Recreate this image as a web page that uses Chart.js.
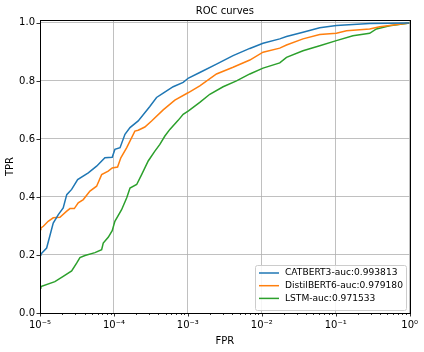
<!DOCTYPE html>
<html>
<head>
<meta charset="utf-8">
<script src="https://cdn.jsdelivr.net/npm/chart.js@4"></script>
<style>
html,body{margin:0;padding:0;background:#fff;}
#wrap{width:424px;height:352px;position:relative;}
</style>
</head>
<body>
<div id="wrap"><canvas id="c" width="424" height="352"></canvas></div>
<script>
const seriesNames = ["CATBERT3-auc:0.993813", "DistilBERT6-auc:0.979180", "LSTM-auc:0.971533"];
const seriesColors = ["#1f77b4", "#ff7f0e", "#2ca02c"];

const fprCatbert = [1e-5, 1.03e-5, 1.23e-5, 1.51e-5, 1.77e-5, 2.06e-5, 2.30e-5, 2.68e-5, 3.23e-5, 4.50e-5, 5.83e-5, 7.55e-5, 9.48e-5, 1.03e-4, 1.21e-4, 1.41e-4, 1.65e-4, 2.13e-4, 3.06e-4, 3.77e-4, 4.64e-4, 6.33e-4, 8.64e-4, 1.02e-3, 1.45e-3, 2.44e-3, 4.09e-3, 6.89e-3, 1.04e-2, 1.75e-2, 2.16e-2, 3.61e-2, 6.08e-2, 0.102, 0.288, 1.0];
const tprCatbert = [0.2, 0.203, 0.224, 0.31, 0.339, 0.362, 0.408, 0.426, 0.46, 0.483, 0.506, 0.535, 0.537, 0.564, 0.57, 0.616, 0.639, 0.662, 0.712, 0.743, 0.758, 0.78, 0.795, 0.81, 0.829, 0.858, 0.887, 0.912, 0.93, 0.945, 0.953, 0.968, 0.983, 0.991, 0.998, 1.0];

const fprDistil = [1e-5, 1.03e-5, 1.11e-5, 1.29e-5, 1.51e-5, 1.86e-5, 2.30e-5, 2.54e-5, 2.91e-5, 3.29e-5, 3.85e-5, 4.74e-5, 5.83e-5, 6.82e-5, 8.37e-5, 9.48e-5, 1.12e-4, 1.24e-4, 1.49e-4, 1.92e-4, 2.13e-4, 2.62e-4, 3.23e-4, 4.64e-4, 6.67e-4, 1.02e-3, 1.45e-3, 2.44e-3, 4.09e-3, 6.89e-3, 1.04e-2, 1.75e-2, 2.16e-2, 3.61e-2, 6.08e-2, 0.102, 0.140, 0.288, 0.393, 1.0];
const tprDistil = [0.288, 0.293, 0.299, 0.316, 0.328, 0.33, 0.351, 0.36, 0.36, 0.38, 0.391, 0.42, 0.437, 0.477, 0.489, 0.5, 0.503, 0.535, 0.57, 0.627, 0.63, 0.641, 0.662, 0.70, 0.734, 0.760, 0.783, 0.824, 0.847, 0.872, 0.899, 0.913, 0.924, 0.945, 0.96, 0.964, 0.973, 0.979, 0.987, 1.0];

const fprLstm = [1e-5, 1.03e-5, 1.59e-5, 2.06e-5, 2.68e-5, 3.13e-5, 3.47e-5, 4.06e-5, 5.54e-5, 6.82e-5, 7.17e-5, 8.37e-5, 9.48e-5, 1.03e-4, 1.27e-4, 1.49e-4, 1.65e-4, 2.03e-4, 2.37e-4, 2.91e-4, 3.58e-4, 4.18e-4, 4.89e-4, 5.71e-4, 7.39e-4, 8.64e-4, 1.02e-3, 1.45e-3, 1.98e-3, 3.00e-3, 4.55e-3, 6.89e-3, 1.04e-2, 1.75e-2, 2.16e-2, 3.61e-2, 6.08e-2, 0.102, 0.171, 0.288, 0.355, 0.537, 1.0];
const tprLstm = [0.086, 0.091, 0.108, 0.126, 0.145, 0.172, 0.191, 0.198, 0.208, 0.218, 0.241, 0.261, 0.284, 0.316, 0.356, 0.397, 0.431, 0.443, 0.477, 0.524, 0.558, 0.581, 0.61, 0.633, 0.664, 0.685, 0.697, 0.726, 0.754, 0.78, 0.80, 0.824, 0.844, 0.862, 0.881, 0.904, 0.921, 0.939, 0.956, 0.964, 0.979, 0.99, 1.0];

const xMajorTicks = [1e-5, 1e-4, 1e-3, 1e-2, 1e-1, 1];
const xTickLabels = ["10\u207B\u2075", "10\u207B\u2074", "10\u207B\u00B3", "10\u207B\u00B2", "10\u207B\u00B9", "10\u2070"];
const yTicks = [0, 0.2, 0.4, 0.6, 0.8, 1.0];
const yTickLabels = ["0.0", "0.2", "0.4", "0.6", "0.8", "1.0"];

const chartTitle = "ROC curves";
const xLabel = "FPR";
const yLabel = "TPR";

const FONT = "'DejaVu Sans', sans-serif";
Chart.defaults.font.family = FONT;
Chart.defaults.font.size = 10;
Chart.defaults.color = "#000";

function toPts(xs, ys) { return xs.map((x, i) => ({x: x, y: ys[i]})); }

const allFpr = [fprCatbert, fprDistil, fprLstm];
const allTpr = [tprCatbert, tprDistil, tprLstm];

const xMinorTicks = [];
for (let k = -5; k < 0; k++) for (let m = 2; m <= 9; m++) xMinorTicks.push(m * Math.pow(10, k));

const frame = {
  id: 'frame',
  afterDraw(chart) {
    const ctx = chart.ctx, a = chart.chartArea;
    const xs = chart.scales.x, ys = chart.scales.y;
    ctx.save();
    ctx.strokeStyle = '#000';
    ctx.lineWidth = 0.8;
    ctx.beginPath();
    xMajorTicks.forEach(v => { const p = Math.round(xs.getPixelForValue(v)) + 0.5; ctx.moveTo(p, a.bottom); ctx.lineTo(p, a.bottom + 3.5); });
    xMinorTicks.forEach(v => { const p = Math.round(xs.getPixelForValue(v)) + 0.5; ctx.moveTo(p, a.bottom); ctx.lineTo(p, a.bottom + 2); });
    yTicks.forEach(v => { const p = Math.round(ys.getPixelForValue(v)) + 0.5; ctx.moveTo(a.left, p); ctx.lineTo(a.left - 3.5, p); });
    ctx.stroke();
    ctx.lineWidth = 1;
    ctx.strokeRect(Math.round(a.left) + 0.5, Math.round(a.top) + 0.5, Math.round(a.right - a.left), Math.round(a.bottom - a.top));
    ctx.fillStyle = '#000';
    ctx.font = "10px " + FONT;
    ctx.textAlign = 'center';
    ctx.textBaseline = 'middle';
    ctx.fillText(chartTitle, (a.left + a.right) / 2, 11);
    ctx.fillText(xLabel, (a.left + a.right) / 2, 341);
    ctx.save();
    ctx.translate(10, (a.top + a.bottom) / 2);
    ctx.rotate(-Math.PI / 2);
    ctx.fillText(yLabel, 0, 0);
    ctx.restore();
    // legend
    const lx = 255, ly = 265, lw = 151, lh = 45;
    ctx.fillStyle = 'rgba(255,255,255,0.85)';
    ctx.strokeStyle = '#cccccc';
    ctx.lineWidth = 1;
    ctx.beginPath();
    if (ctx.roundRect) ctx.roundRect(lx + 0.5, ly + 0.5, lw, lh, 2); else ctx.rect(lx + 0.5, ly + 0.5, lw, lh);
    ctx.fill();
    ctx.stroke();
    const w10 = ctx.measureText(seriesNames[1]).width;
    const fs = Math.min(10, 10 * 118 / w10);
    ctx.font = fs.toFixed(2) + "px " + FONT;
    ctx.textAlign = 'left';
    ctx.textBaseline = 'middle';
    seriesNames.forEach((n, i) => {
      const yy = 273 + i * 12.7;
      ctx.strokeStyle = seriesColors[i];
      ctx.lineWidth = 1.5;
      ctx.beginPath();
      ctx.moveTo(259, yy);
      ctx.lineTo(279, yy);
      ctx.stroke();
      ctx.fillStyle = '#000';
      ctx.fillText(n, 285, yy);
    });
    ctx.restore();
  }
};

new Chart(document.getElementById('c'), {
  type: 'scatter',
  data: {
    datasets: seriesNames.map((n, i) => ({
      label: n,
      data: toPts(allFpr[i], allTpr[i]),
      showLine: true,
      borderColor: seriesColors[i],
      backgroundColor: seriesColors[i],
      borderWidth: 1.5,
      pointRadius: 0,
      pointHoverRadius: 0,
      tension: 0
    }))
  },
  options: {
    responsive: false,
    animation: false,
    events: [],
    layout: {padding: {left: 0, right: 14, top: 20, bottom: 0}},
    plugins: {legend: {display: false}, title: {display: false}, tooltip: {enabled: false}},
    scales: {
      x: {
        type: 'logarithmic',
        min: 1e-5, max: 1,
        afterBuildTicks(scale) { scale.ticks = xMajorTicks.map(v => ({value: v, major: true})); },
        afterFit(scale) { scale.height = 39; },
        ticks: {
          autoSkip: false, maxRotation: 0, padding: 6,
          callback: (v, i) => xTickLabels[i]
        },
        grid: {color: '#b0b0b0', lineWidth: 0.8, drawTicks: false},
        border: {display: false}
      },
      y: {
        min: 0, max: 1.01,
        afterBuildTicks(scale) { scale.ticks = yTicks.map(v => ({value: v})); },
        afterFit(scale) { scale.width = 40; },
        ticks: {
          padding: 5,
          callback: (v, i) => yTickLabels[i]
        },
        grid: {color: '#b0b0b0', lineWidth: 0.8, drawTicks: false},
        border: {display: false}
      }
    }
  },
  plugins: [frame]
});
</script>
</body>
</html>
